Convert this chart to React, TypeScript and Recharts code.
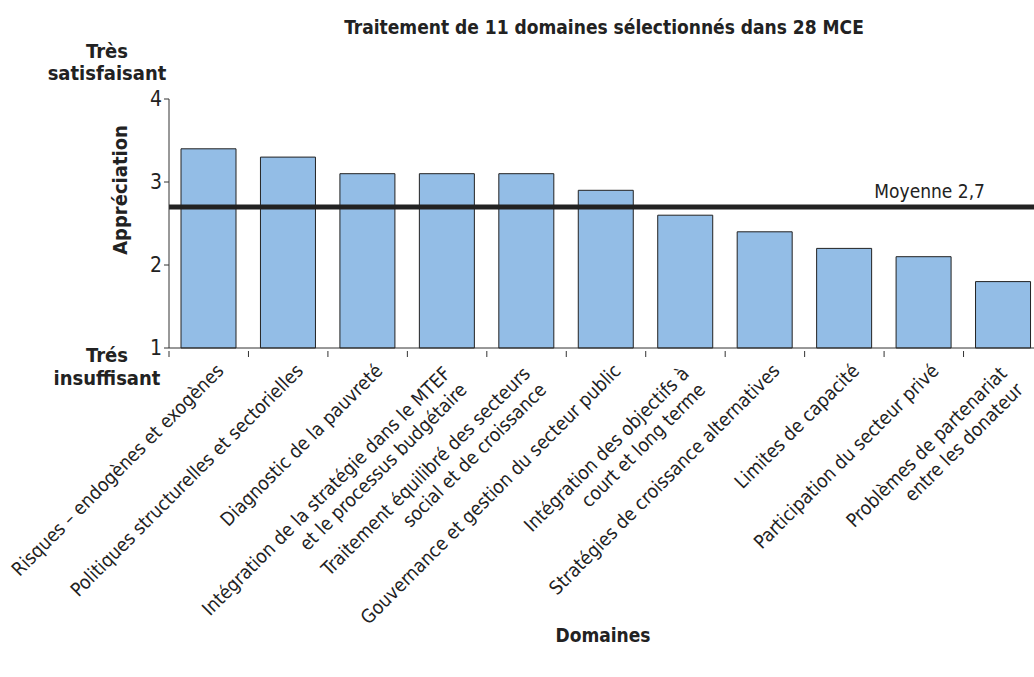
import React from 'react'
import { BarChart, Bar, XAxis, YAxis, ReferenceLine } from 'recharts'

const FONT = "'Liberation Sans Narrow', 'DejaVu Sans Condensed', 'Arial Narrow', sans-serif"

// domain labels, split into lines as printed under the axis
const domaines: string[][] = [
  ['Risques – endogènes et exogènes'],
  ['Politiques structurelles et sectorielles'],
  ['Diagnostic de la pauvreté'],
  ['Intégration de la stratégie dans le MTEF', 'et le processus budgétaire'],
  ['Traitement équilibré des secteurs', 'social et de croissance'],
  ['Gouvernance et gestion du secteur public'],
  ['Intégration des objectifs à', 'court et long terme'],
  ['Stratégies de croissance alternatives'],
  ['Limites de capacité'],
  ['Participation du secteur privé'],
  ['Problèmes de partenariat', 'entre les donateur'],
]

const appreciation = [3.4, 3.3, 3.1, 3.1, 3.1, 2.9, 2.6, 2.4, 2.2, 2.1, 1.8]
const yTicks = [1, 2, 3, 4]
const moyenne = 2.7

const data = domaines.map((lines, i) => ({ key: String(i), lines, value: appreciation[i] }))

const CHART_W = 1050
const MARGIN = { top: 99, right: 7, left: 109, bottom: 29 }
const Y_AXIS_W = 60
const step = (CHART_W - MARGIN.left - MARGIN.right - Y_AXIS_W) / data.length
const LINE_H = 23

function DomainTick(props: any) {
  const { x, y, payload } = props
  const lines: string[] = data[payload.index]?.lines ?? []
  const ax = x + 16
  const ay = y + 16
  // two-line labels are lifted a little and pulled back along the slant
  const multi = lines.length > 1
  const lx = multi ? ax - 10 : ax
  return (
    <g>
      <line x1={x - step / 2} y1={y - 5} x2={x - step / 2} y2={y + 1} stroke="#333" strokeWidth={1} />
      <text
        x={lx}
        y={ay}
        transform={`rotate(-45, ${ax}, ${ay})`}
        textAnchor="end"
        fontFamily={FONT}
        fontSize={19}
        fill="#222"
      >
        {lines.map((l, i) => (
          <tspan key={i} x={lx} dy={i === 0 ? (multi ? -6 : 0) : LINE_H}>
            {l}
          </tspan>
        ))}
      </text>
    </g>
  )
}

function MoyenneLabel(props: any) {
  const { viewBox } = props
  return (
    <text
      x={viewBox.x + viewBox.width - 58}
      y={viewBox.y - 9}
      textAnchor="end"
      fontFamily={FONT}
      fontSize={19}
      fill="#222"
    >
      {`Moyenne ${String(moyenne).replace('.', ',')}`}
    </text>
  )
}

export default function App() {
  return (
    <div style={{ position: 'absolute', left: 0, top: 0, width: 1034, height: 677, overflow: 'hidden', background: '#fff' }}>
      <BarChart width={CHART_W} height={677} data={data} margin={MARGIN} barCategoryGap={12}>
        <XAxis
          dataKey="key"
          interval={0}
          height={300}
          tick={<DomainTick />}
          tickLine={false}
          axisLine={{ stroke: '#333' }}
        />
        <YAxis
          width={Y_AXIS_W}
          domain={[1, 4]}
          ticks={yTicks}
          tickSize={5}
          tickLine={{ stroke: '#333' }}
          axisLine={{ stroke: '#333' }}
          tick={{ fill: '#222', fontSize: 21, fontFamily: FONT }}
        />
        <Bar dataKey="value" fill="#93bde6" stroke="#222" strokeWidth={1} isAnimationActive={false} />
        <ReferenceLine y={moyenne} stroke="#222" strokeWidth={5} label={<MoyenneLabel />} ifOverflow="extendDomain" />
        <text x={604} y={34} textAnchor="middle" fontFamily={FONT} fontWeight="bold" fontSize={19} fill="#222">
          Traitement de 11 domaines sélectionnés dans 28 MCE
        </text>
        <text x={107} y={58} textAnchor="middle" fontFamily={FONT} fontWeight="bold" fontSize={20} fill="#222">
          Très
        </text>
        <text x={107} y={80} textAnchor="middle" fontFamily={FONT} fontWeight="bold" fontSize={20} fill="#222">
          satisfaisant
        </text>
        <text x={107} y={362} textAnchor="middle" fontFamily={FONT} fontWeight="bold" fontSize={20} fill="#222">
          Trés
        </text>
        <text x={107} y={385} textAnchor="middle" fontFamily={FONT} fontWeight="bold" fontSize={20} fill="#222">
          insuffisant
        </text>
        <text
          x={127}
          y={190}
          transform="rotate(-90, 127, 190)"
          textAnchor="middle"
          fontFamily={FONT}
          fontWeight="bold"
          fontSize={20}
          fill="#222"
        >
          Appréciation
        </text>
        <text x={603} y={642} textAnchor="middle" fontFamily={FONT} fontWeight="bold" fontSize={19} fill="#222">
          Domaines
        </text>
      </BarChart>
    </div>
  )
}
